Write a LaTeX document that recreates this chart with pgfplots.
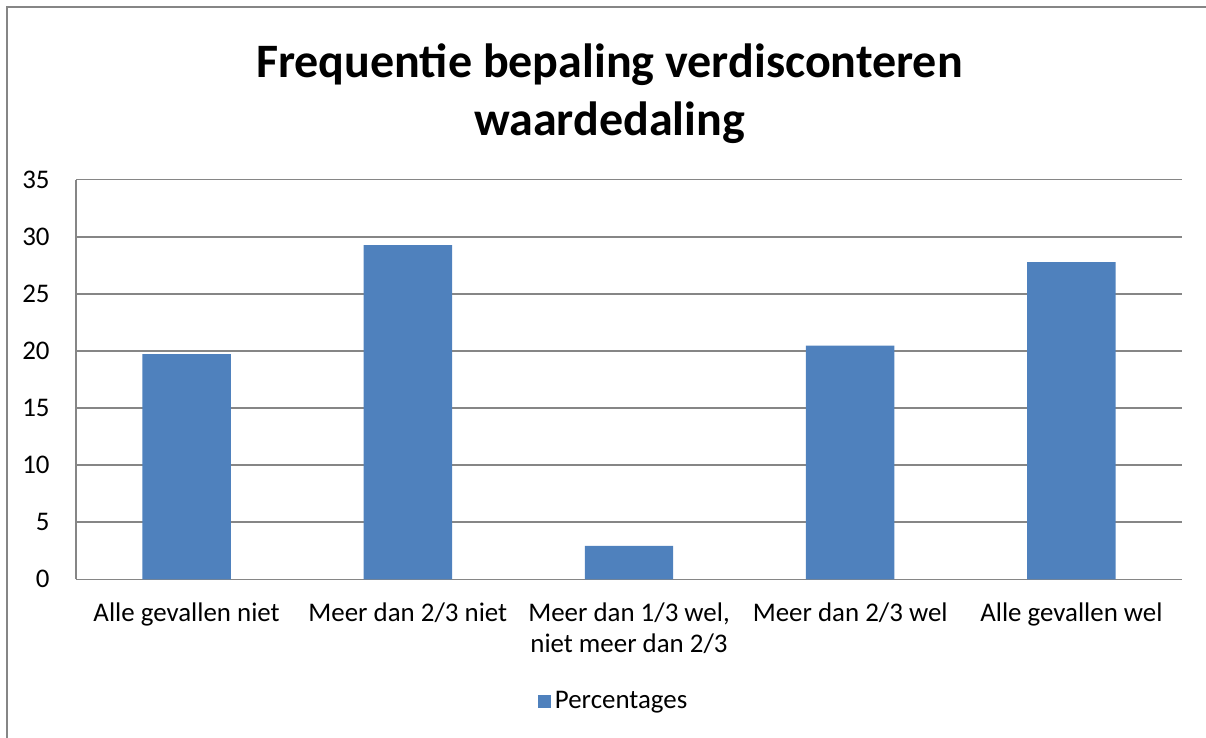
\documentclass[border=0pt]{standalone}
\usepackage{pgfplots}
\pgfplotsset{compat=1.18}
\usepackage{fontspec}
\setmainfont{Carlito}
\definecolor{barblue}{RGB}{79,129,189}
\definecolor{gridgray}{RGB}{134,134,134}
\definecolor{bordergray}{RGB}{134,134,134}
\begin{document}
\begin{tikzpicture}
\useasboundingbox (0,0) rectangle (603bp,369bp);
\draw[bordergray, line width=1bp] (3.6bp,0) -- (3.6bp,365.4bp) -- (603bp,365.4bp);
\node[anchor=base, font=\fontsize{24.1}{26}\selectfont\bfseries] at (304.75bp,330bp) {Frequentie bepaling verdisconteren};
\node[anchor=base, font=\fontsize{24.1}{26}\selectfont\bfseries] at (304.75bp,301bp) {waardedaling};
\begin{axis}[
  at={(38bp,79.35bp)}, anchor=south west,
  width=553bp, height=199.8bp, scale only axis,
  xmin=-0.5, xmax=4.5, ymin=0, ymax=35,
  xtick={0,1,2,3,4},
  xticklabels={\strut Alle gevallen niet, \strut Meer dan 2/3 niet, {\strut Meer dan 1/3 wel,\\ niet meer dan 2/3}, \strut Meer dan 2/3 wel, \strut Alle gevallen wel},
  ytick={0,5,...,35},
  /pgf/number format/assume math mode=true,
  tick label style={font=\fontsize{13.5}{15.5}\selectfont},
  xticklabel style={align=center, anchor=north, inner sep=0pt, yshift=-10bp},
  yticklabel style={anchor=east, inner sep=0pt, xshift=-13bp},
  ymajorgrids, grid style={gridgray, line width=0.75bp},
  axis x line*=bottom, axis y line*=left,
  axis line style={gridgray, line width=0.75bp, -},
  tick style={draw=none},
  legend style={at={(0.487,-0.3046)}, anchor=center, draw=none, fill=none,
    font=\fontsize{13.5}{15.5}\selectfont, inner sep=0pt,
    nodes={inner xsep=2bp, inner ysep=0pt}},
  legend image code/.code={\fill[barblue] (0bp,-3.25bp) rectangle (6.5bp,3.25bp);},
]
\addplot[ybar, bar width=0.4, fill=barblue, draw=none] coordinates {
  (0,19.73) (1,29.28) (2,2.92) (3,20.46) (4,27.79)
};
\addlegendentry{Percentages}
\end{axis}
\end{tikzpicture}
\end{document}
